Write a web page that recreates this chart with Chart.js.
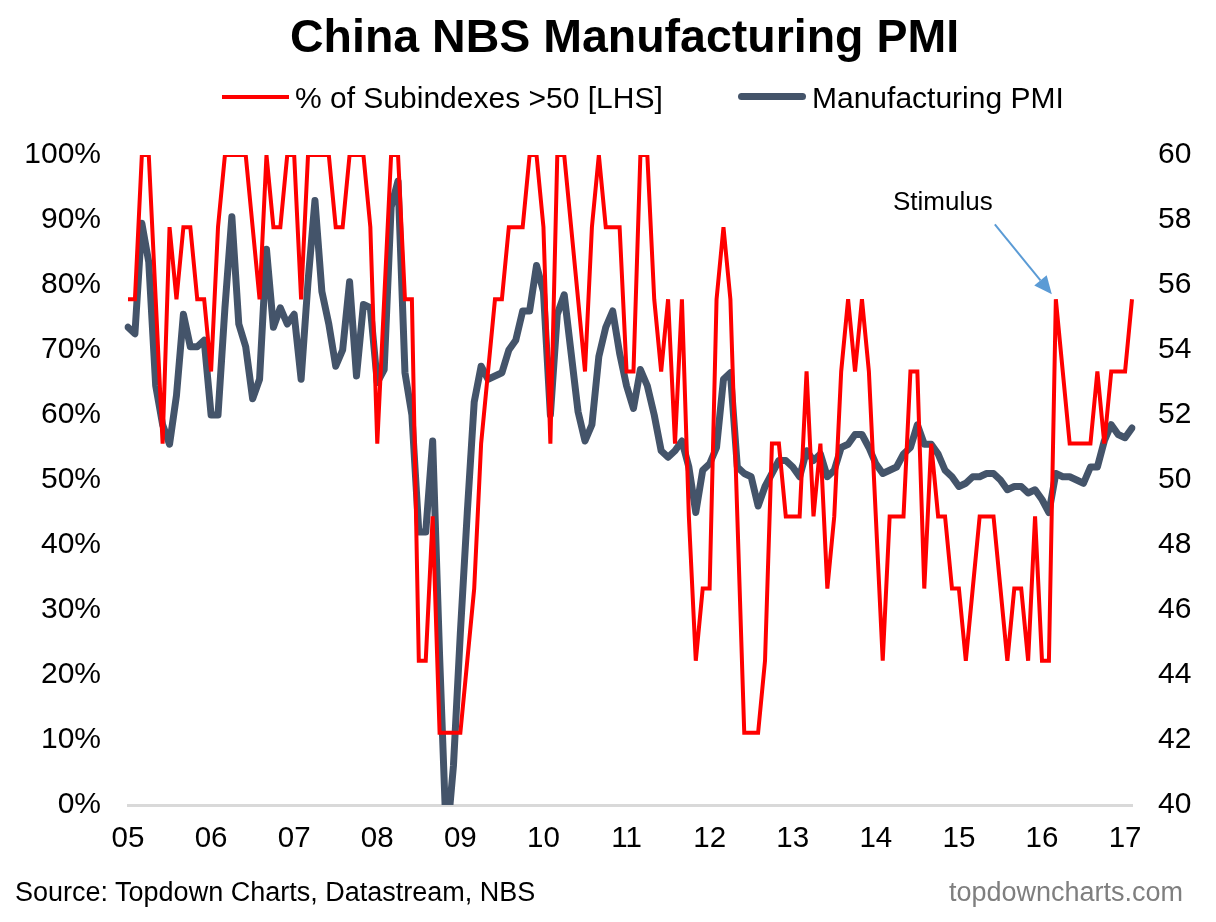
<!DOCTYPE html>
<html>
<head>
<meta charset="utf-8">
<title>China NBS Manufacturing PMI</title>
<script src="https://cdn.jsdelivr.net/npm/chart.js@4.4.1/dist/chart.umd.min.js"></script>
<style>
  body { margin: 0; background: #fff; font-family: Arial, "Liberation Sans", sans-serif; }
  #wrap { position: relative; width: 1216px; height: 922px; overflow: hidden; }
  #box { position: absolute; left: 0; top: 0; width: 1216px; height: 922px; }
  .txt { position: absolute; white-space: nowrap; line-height: 1; color: #000; }
  .key { position: absolute; }
</style>
</head>
<body>
<div id="wrap">
  <div id="box"><canvas id="pmiChart"></canvas></div>

  <div class="txt" style="left:290px; top:13px; font-size:46.5px; font-weight:bold;">China NBS Manufacturing PMI</div>

  <div class="key" style="left:222px; top:95px; width:67px; height:4px; background:#ff0000;"></div>
  <div class="txt" style="left:295px; top:83px; font-size:30px;">% of Subindexes &gt;50 [LHS]</div>
  <div class="key" style="left:738px; top:93px; width:68px; height:7px; background:#44546a; border-radius:4px;"></div>
  <div class="txt" style="left:812px; top:83px; font-size:30px;">Manufacturing PMI</div>

  <div class="txt" style="left:893px; top:188px; font-size:26px;">Stimulus</div>

  <div class="txt" style="left:15px; top:879px; font-size:27px;">Source: Topdown Charts, Datastream, NBS</div>
  <div class="txt" style="right:33px; top:879px; font-size:27px; color:#7f7f7f;">topdowncharts.com</div>
</div>

<script>
// monthly, Jan 2005 - Feb 2017
const years = ['2005', '2006', '2007', '2008', '2009', '2010', '2011', '2012', '2013', '2014', '2015', '2016', '2017']
const monthNums = ['01', '02', '03', '04', '05', '06', '07', '08', '09', '10', '11', '12']
const yearTicks = ['05', '06', '07', '08', '09', '10', '11', '12', '13', '14', '15', '16', '17']

// % of subindexes above 50 (LHS)
const subindexPct = [
  77.8, 77.8, 100, 100, 77.8, 55.6, 88.9, 77.8, 88.9, 88.9, 77.8, 77.8,
  66.7, 88.9, 100, 100, 100, 100, 88.9, 77.8, 100, 88.9, 88.9, 100,
  100, 77.8, 100, 100, 100, 100, 88.9, 88.9, 100, 100, 100, 88.9,
  55.6, 77.8, 100, 100, 77.8, 77.8, 22.2, 22.2, 44.4, 11.1, 11.1, 11.1,
  11.1, 22.2, 33.3, 55.6, 66.7, 77.8, 77.8, 88.9, 88.9, 88.9, 100, 100,
  88.9, 55.6, 100, 100, 88.9, 77.8, 66.7, 88.9, 100, 88.9, 88.9, 88.9,
  66.7, 66.7, 100, 100, 77.8, 66.7, 77.8, 55.6, 77.8, 44.4, 22.2, 33.3,
  33.3, 77.8, 88.9, 77.8, 44.4, 11.1, 11.1, 11.1, 22.2, 55.6, 55.6, 44.4,
  44.4, 44.4, 66.7, 44.4, 55.6, 33.3, 44.4, 66.7, 77.8, 66.7, 77.8, 66.7,
  44.4, 22.2, 44.4, 44.4, 44.4, 66.7, 66.7, 33.3, 55.6, 44.4, 44.4, 33.3,
  33.3, 22.2, 33.3, 44.4, 44.4, 44.4, 33.3, 22.2, 33.3, 33.3, 22.2, 44.4,
  22.2, 22.2, 77.8, 66.7, 55.6, 55.6, 55.6, 55.6, 66.7, 55.6, 66.7, 66.7,
  66.7, 77.8,
]

// NBS manufacturing PMI (RHS)
const pmi = [
  54.7, 54.5, 57.9, 56.7, 52.9, 51.7, 51.1, 52.6, 55.1, 54.1, 54.1, 54.3,
  52.0, 52.0, 55.3, 58.1, 54.8, 54.1, 52.5, 53.1, 57.1, 54.7, 55.3, 54.8,
  55.1, 53.1, 56.1, 58.6, 55.8, 54.8, 53.5, 54.0, 56.1, 53.2, 55.4, 55.3,
  53.0, 53.4, 58.4, 59.2, 53.3, 52.0, 48.4, 48.4, 51.2, 44.6, 38.8, 41.2,
  45.3, 49.0, 52.4, 53.5, 53.1, 53.2, 53.3, 54.0, 54.3, 55.2, 55.2, 56.6,
  55.8, 52.0, 55.1, 55.7, 53.9, 52.1, 51.2, 51.7, 53.8, 54.7, 55.2, 53.9,
  52.9, 52.2, 53.4, 52.9, 52.0, 50.9, 50.7, 50.9, 51.2, 50.4, 49.0, 50.3,
  50.5, 51.0, 53.1, 53.3, 50.4, 50.2, 50.1, 49.2, 49.8, 50.2, 50.6, 50.6,
  50.4, 50.1, 50.9, 50.6, 50.8, 50.1, 50.3, 51.0, 51.1, 51.4, 51.4, 51.0,
  50.5, 50.2, 50.3, 50.4, 50.8, 51.0, 51.7, 51.1, 51.1, 50.8, 50.3, 50.1,
  49.8, 49.9, 50.1, 50.1, 50.2, 50.2, 50.0, 49.7, 49.8, 49.8, 49.6, 49.7,
  49.4, 49.0, 50.2, 50.1, 50.1, 50.0, 49.9, 50.4, 50.4, 51.2, 51.7, 51.4,
  51.3, 51.6,
]

const stimulusIndex = 134 // Mar 2016

let categories = []
years.forEach((y) => monthNums.forEach((m) => categories.push(y + '-' + m)))
categories = categories.slice(0, subindexPct.length)

const fontFamily = 'Arial, "Liberation Sans", sans-serif'

// blue arrow pointing at the stimulus spike
const stimulusArrow = {
  id: 'stimulusArrow',
  afterDatasetsDraw(chart) {
    const ctx = chart.ctx
    const px = chart.scales.x.getPixelForValue(stimulusIndex)
    const py = chart.scales.y.getPixelForValue(subindexPct[stimulusIndex])
    const tipX = px - 4
    const tipY = py - 5
    const fromX = px - 61
    const fromY = py - 75
    const ang = Math.atan2(tipY - fromY, tipX - fromX)
    const headLen = 18
    const headW = 8
    const baseX = tipX - headLen * Math.cos(ang)
    const baseY = tipY - headLen * Math.sin(ang)

    ctx.save()
    ctx.strokeStyle = '#5b9bd5'
    ctx.fillStyle = '#5b9bd5'
    ctx.lineWidth = 2
    ctx.beginPath()
    ctx.moveTo(fromX, fromY)
    ctx.lineTo(baseX, baseY)
    ctx.stroke()
    ctx.beginPath()
    ctx.moveTo(tipX, tipY)
    ctx.lineTo(baseX + headW * Math.sin(ang), baseY - headW * Math.cos(ang))
    ctx.lineTo(baseX - headW * Math.sin(ang), baseY + headW * Math.cos(ang))
    ctx.closePath()
    ctx.fill()
    ctx.restore()
  },
}

const ctx = document.getElementById('pmiChart').getContext('2d')
const pmiChart = new Chart(ctx, {
  type: 'line',
  data: {
    labels: categories,
    datasets: [
      {
        label: '% of Subindexes >50 [LHS]',
        data: subindexPct,
        yAxisID: 'y',
        borderColor: '#ff0000',
        borderWidth: 4,
        borderJoinStyle: 'miter',
        pointRadius: 0,
        tension: 0,
      },
      {
        label: 'Manufacturing PMI',
        data: pmi,
        yAxisID: 'y1',
        borderColor: '#44546a',
        borderWidth: 7,
        borderJoinStyle: 'round',
        borderCapStyle: 'round',
        pointRadius: 0,
        tension: 0,
      },
    ],
  },
  options: {
    responsive: true,
    maintainAspectRatio: false,
    animation: false,
    layout: { padding: { top: 155, bottom: 57, left: 0, right: 0 } },
    plugins: {
      legend: { display: false },
      title: { display: false },
      tooltip: { enabled: false },
    },
    scales: {
      x: {
        grid: { display: false, drawTicks: false },
        border: { display: true, color: '#d9d9d9', width: 3 },
        ticks: {
          autoSkip: false,
          maxRotation: 0,
          minRotation: 0,
          padding: 16,
          color: '#000',
          font: { family: fontFamily, size: 29.5 },
          callback: (val, i) => (i % 12 === 0 ? yearTicks[i / 12] : ''),
        },
        afterFit: (scale) => {
          scale.height = 60
        },
      },
      y: {
        position: 'left',
        min: 0,
        max: 100,
        grid: { display: false, drawTicks: false },
        border: { display: false },
        ticks: {
          stepSize: 10,
          padding: 27,
          color: '#000',
          font: { family: fontFamily, size: 30 },
          callback: (v) => v + '%',
        },
        afterFit: (scale) => {
          scale.width = 128
        },
      },
      y1: {
        position: 'right',
        min: 40,
        max: 60,
        grid: { display: false, drawTicks: false },
        border: { display: false },
        ticks: {
          stepSize: 2,
          padding: 26,
          color: '#000',
          font: { family: fontFamily, size: 30 },
        },
        afterFit: (scale) => {
          scale.width = 84
        },
      },
    },
  },
  plugins: [stimulusArrow],
})
</script>
</body>
</html>
